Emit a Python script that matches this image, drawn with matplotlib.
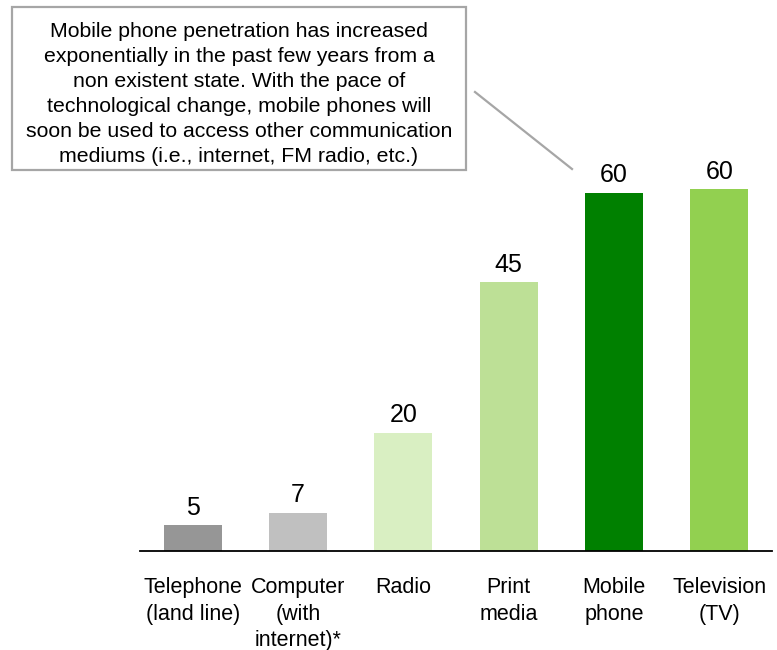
import matplotlib.pyplot as plt
from matplotlib.patches import Rectangle
from matplotlib.lines import Line2D

plt.rcParams['font.family'] = ['Liberation Sans', 'DejaVu Sans']

# data
categories = ['Telephone\n(land line)', 'Computer\n(with\ninternet)*', 'Radio',
              'Print\nmedia', 'Mobile\nphone', 'Television\n(TV)']
values = [4.3, 6.4, 19.8, 45, 60, 60.6]
value_labels = ['5', '7', '20', '45', '60', '60']
colors = ['#969696', '#C0C0C0', '#D9EFC2', '#BDE096', '#008000', '#92D050']

note = ('Mobile phone penetration has increased\n'
        'exponentially in the past few years from a\n'
        'non existent state. With the pace of\n'
        'technological change, mobile phones will\n'
        'soon be used to access other communication\n'
        'mediums (i.e., internet, FM radio, etc.)')

W, H = 777, 650
fig = plt.figure(figsize=(W / 100, H / 100), dpi=100)

# axes: x 140..772 px, baseline at y=551, top at y=133 (70 units)
ax = fig.add_axes([140 / W, (H - 551) / H, 632 / W, 418 / H])
x = list(range(len(categories)))
bars = ax.bar(x, values, width=0.55, color=colors)
ax.set_xlim(-0.5, 5.5)
ax.set_ylim(0, 70)

for b, lab in zip(bars, value_labels):
    ax.annotate(lab, (b.get_x() + b.get_width() / 2, b.get_height()),
                xytext=(0, 4), textcoords='offset points',
                ha='center', va='bottom', fontsize=18)

for s in ['left', 'right', 'top']:
    ax.spines[s].set_visible(False)
ax.spines['bottom'].set_linewidth(1.3)
ax.set_yticks([])
ax.set_xticks([])

# category labels under the axis
for xi, cat in zip(x, categories):
    ax.annotate(cat, (xi, 0), xytext=(0, -19), textcoords='offset points',
                ha='center', va='top', fontsize=15.5, linespacing=1.32)

# callout box
box = Rectangle((12 / W, (H - 170) / H), 454 / W, 163 / H, transform=fig.transFigure,
                facecolor='white', edgecolor='#A6A6A6', linewidth=1.6)
fig.add_artist(box)
fig.text(239 / W, (H - 94) / H, note, ha='center', va='center', fontsize=15.3,
         linespacing=1.4)
fig.add_artist(Line2D([475 / W, 572 / W], [(H - 92) / H, (H - 169) / H],
                      transform=fig.transFigure, color='#A6A6A6', linewidth=1.6))

plt.savefig('out.png', dpi=100)
